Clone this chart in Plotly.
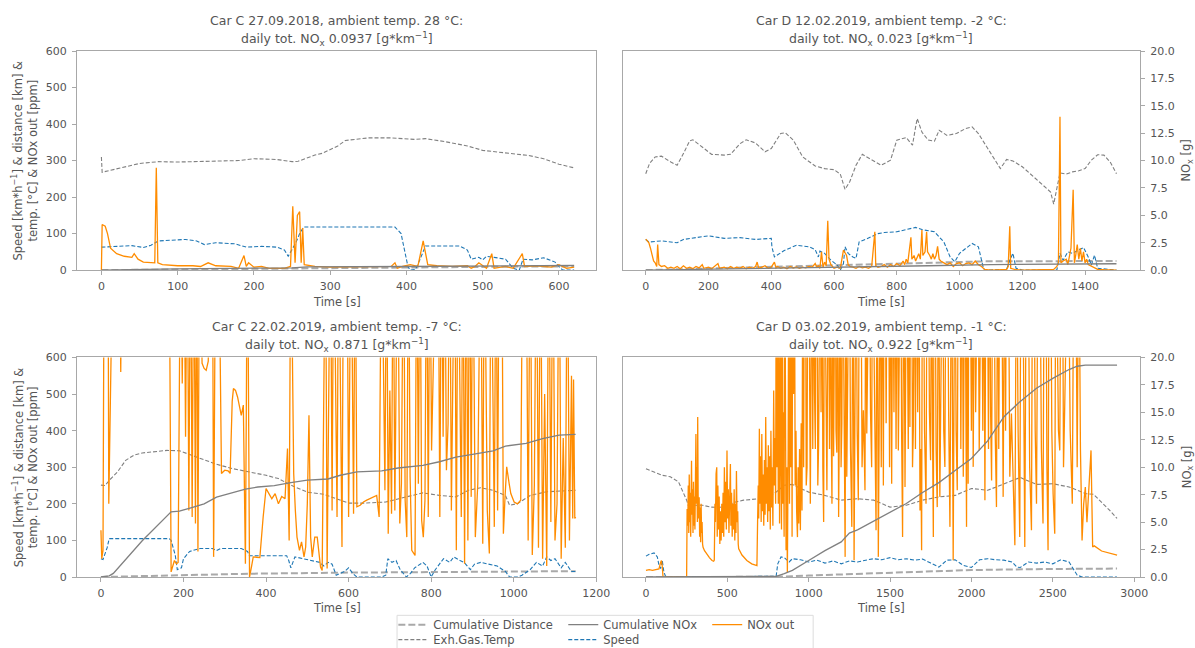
import plotly.graph_objects as go

# ---------------- DATA (time [s], value) ----------------
# Panel 1: Car C 27.09.2018
TL_TEMP = [(0,310),(1,268),(50,292),(75,297),(100,296),(150,298),(180,300),(200,305),(230,303),(250,297),(258,298),
           (280,315),(290,320),(310,340),(320,355),(350,362),(380,362),(410,358),(425,360),(450,352),(480,340),
           (500,328),(530,322),(560,314),(580,305),(600,290),(620,280)]
TL_SPEED = [(0,63),(20,64),(40,67),(55,62),(65,68),(75,80),(100,82),(110,84),(125,80),(135,70),(150,75),(175,72),
            (190,63),(210,65),(230,63),(240,55),(245,38),(255,75),(260,100),(265,118),(300,118),(385,118),(393,100),
            (398,50),(402,10),(405,0),(412,2),(418,30),(425,66),(470,66),(480,55),(485,30),(495,35),(500,28),(505,38),
            (515,35),(530,30),(540,5),(548,0),(553,30),(565,28),(580,34),(595,22),(600,10),(605,0),(620,0)]
TL_NOX = [(0,0),(1,125),(5,120),(8,100),(12,60),(20,45),(30,38),(40,35),(43,45),(48,30),(55,22),(70,20),(72,280),
          (74,20),(80,15),(100,12),(120,12),(130,10),(140,20),(150,12),(170,10),(180,5),(187,40),(190,10),(193,20),
          (200,8),(210,10),(220,5),(240,5),(248,10),(251,175),(254,20),(257,150),(260,160),(262,20),(264,115),(266,15),
          (280,10),(300,8),(380,10),(385,20),(388,5),(395,10),(405,15),(415,10),(422,80),(428,15),(440,12),(460,10),
          (480,12),(485,5),(490,10),(495,20),(505,5),(512,45),(515,5),(530,10),(540,5),(552,45),(555,10),(570,12),
          (590,8),(600,15),(610,5),(620,8)]
TL_DIST = [(0,0),(100,2.0),(200,4.0),(260,5.0),(300,6.0),(400,8.5),(450,9.0),(500,9.4),(550,9.7),(620,10.0)]
TL_CUMNOX = [(0,0),(100,0.12),(250,0.2),(270,0.3),(400,0.33),(620,0.42)]

# Panel 2: Car D 12.02.2019
TR_TEMP = [(0,264),(12,292),(30,310),(50,312),(80,296),(100,287),(120,319),(140,354),(150,357),(180,337),(210,317),
           (250,315),(270,317),(300,346),(320,357),(350,348),(380,324),(400,333),(430,374),(445,376),(470,356),
           (500,310),(540,285),(570,278),(600,275),(620,263),(635,221),(650,242),(670,287),(690,317),(720,301),
           (750,287),(780,301),(800,356),(830,363),(850,342),(860,392),(865,415),(880,378),(900,356),(920,353),
           (935,383),(960,369),(990,374),(1020,388),(1040,392),(1060,374),(1100,319),(1130,278),(1150,303),
           (1170,299),(1200,283),(1250,246),(1290,214),(1300,181),(1310,228),(1320,266),(1340,263),(1360,269),
           (1380,272),(1400,278),(1420,301),(1440,316),(1460,315),(1480,296),(1500,264)]
TR_SPEED = [(0,84),(10,77),(50,80),(100,75),(120,84),(200,94),(250,87),(300,89),(350,84),(400,87),(402,64),(410,36),
            (440,53),(480,68),(520,64),(540,56),(550,36),(555,52),(570,46),(590,27),(610,14),(620,0),(630,18),
            (635,64),(645,46),(660,36),(670,32),(680,77),(700,84),(740,100),(760,103),(800,105),(860,117),(880,111),
            (920,105),(950,77),(970,36),(985,23),(1000,46),(1040,73),(1060,64),(1075,9),(1080,0),(1150,2),(1160,27),
            (1170,46),(1180,5),(1200,0),(1310,0),(1320,46),(1330,27),(1345,50),(1360,46),(1380,55),(1395,62),
            (1410,36),(1420,14),(1430,41),(1440,5),(1500,0)]
TR_NOX = [(0,85),(5,80),(10,75),(15,60),(20,40),(25,25),(30,20),(35,10),(38,70),(42,15),(50,10),(60,12),(70,5),(80,8),
          (90,5),(100,10),(110,4),(120,12),(130,5),(140,8),(150,4),(160,10),(170,6),(180,15),(185,5),(200,8),(210,4),
          (220,10),(230,18),(235,5),(250,8),(260,4),(270,10),(280,5),(290,8),(300,5),(310,10),(320,4),(330,8),(340,5),
          (350,10),(355,22),(360,5),(370,8),(380,12),(390,5),(400,8),(410,22),(415,6),(420,10),(430,5),(440,8),(450,4),
          (460,10),(470,6),(480,9),(490,5),(500,8),(510,6),(520,10),(530,8),(540,18),(545,8),(550,12),(555,5),(560,50),
          (565,8),(570,22),(575,12),(580,135),(584,30),(590,15),(595,10),(600,5),(610,8),(620,5),(630,55),(635,45),
          (640,40),(645,15),(650,10),(660,8),(670,5),(680,10),(690,6),(700,8),(710,5),(720,10),(730,105),(733,12),
          (740,8),(750,10),(760,15),(770,8),(780,15),(790,10),(800,18),(810,12),(820,25),(825,15),(830,30),(835,20),
          (845,90),(848,30),(855,40),(860,25),(870,45),(875,30),(880,110),(883,40),(890,50),(895,105),(898,50),
          (905,40),(910,30),(915,45),(920,30),(925,40),(930,65),(935,30),(940,25),(950,20),(960,15),(970,20),(980,10),
          (990,18),(1000,20),(1010,12),(1020,18),(1030,20),(1040,15),(1050,25),(1060,15),(1070,10),(1075,5),(1080,2),
          (1100,0),(1140,1),(1150,2),(1155,10),(1160,120),(1163,5),(1170,3),(1180,1),(1200,0),(1300,2),(1310,10),
          (1315,20),(1320,420),(1323,20),(1330,25),(1340,30),(1345,15),(1350,40),(1355,60),(1362,220),(1366,20),
          (1370,40),(1375,70),(1380,30),(1385,60),(1390,25),(1395,50),(1400,20),(1405,30),(1410,15),(1420,10),
          (1430,5),(1440,2),(1460,1),(1500,0)]
TR_DIST = [(0,0),(200,4.5),(400,9.3),(600,12.5),(800,17),(1000,22.5),(1080,24),(1500,25)]
TR_CUMNOX = [(0,0),(400,0.15),(600,0.25),(900,0.4),(1100,0.5),(1300,0.52),(1400,0.58),(1500,0.58)]

# Panel 3: Car C 22.02.2019
BL_TEMP = [(0,251),(10,250),(20,264),(40,287),(60,319),(80,333),(100,339),(130,342),(160,346),(190,345),(210,337),
           (250,319),(280,308),(320,296),(360,287),(400,278),(430,269),(460,251),(500,232),(540,226),(570,214),
           (600,202),(640,202),(690,205),(740,219),(780,230),(820,223),(860,219),(890,237),(920,244),(950,237),
           (980,223),(990,196),(1010,201),(1040,223),(1080,233),(1150,237)]
BL_SPEED = [(0,50),(5,48),(15,80),(20,105),(100,105),(165,105),(170,100),(180,60),(185,20),(195,25),(200,50),(215,70),
            (240,78),(270,78),(280,72),(290,78),(340,78),(355,70),(360,58),(450,58),(455,45),(460,25),(470,55),
            (490,50),(510,45),(530,40),(540,30),(550,40),(560,35),(570,5),(590,15),(600,25),(610,10),(620,0),(680,0),
            (690,5),(695,50),(705,40),(715,45),(725,20),(740,0),(750,10),(760,25),(780,40),(790,30),(800,0),(810,20),
            (830,50),(845,40),(855,55),(870,45),(880,40),(895,20),(905,35),(920,40),(940,35),(960,30),(980,15),
            (990,0),(1010,0),(1020,5),(1040,20),(1055,40),(1070,30),(1080,55),(1090,45),(1100,50),(1115,25),
            (1125,40),(1140,15),(1150,15)]
BL_NOX = [(0,128),(2,50),(5,73),(8,1000),(12,1000),(15,650),(17,1000),(19,200),(22,1000),(30,1000),(45,1000),(48,560),
          (51,1000),(100,1000),(165,1000),(170,14),(175,30),(178,45),(183,36),(187,40),(193,1000),(197,529),(201,1000),
          (205,383),(209,1000),(213,182),(217,1000),(221,164),(225,1000),(229,146),(232,1000),(235,70),(239,1000),
          (245,584),(250,570),(255,565),(260,590),(265,1000),(270,1000),(273,55),(278,1000),(285,1000),(292,283),
          (300,292),(308,290),(313,283),(318,480),(321,515),(326,510),(331,492),(336,465),(340,442),(345,470),(350,36),
          (355,1000),(360,0),(365,30),(369,55),(377,54),(385,53),(393,164),(400,242),(407,228),(414,214),(422,228),
          (430,200),(438,220),(446,214),(452,351),(456,100),(460,1000),(467,283),(471,182),(475,109),(481,73),(486,96),
          (492,55),(496,82),(500,200),(504,442),(508,109),(512,55),(518,109),(524,109),(532,27),(536,18),(544,1000),
          (548,23),(556,1000),(560,182),(564,1000),(572,164),(576,1000),(584,82),(588,1000),(596,1000),(600,164),
          (606,1000),(612,173),(616,1000),(620,192),(628,196),(636,205),(644,210),(652,214),(660,219),(668,223),
          (674,164),(680,1000),(688,237),(692,1000),(696,118),(700,510),(704,173),(708,1000),(712,182),(719,1000),
          (724,146),(728,255),(733,1000),(737,210),(741,109),(745,1000),(749,274),(753,73),(761,59),(765,1000),
          (769,255),(773,1000),(777,155),(781,109),(785,210),(789,1000),(793,164),(797,1000),(801,346),(805,1000),
          (813,1000),(817,1000),(821,164),(825,1000),(829,383),(833,1000),(837,292),(841,419),(845,1000),(849,182),
          (857,1000),(861,73),(865,1000),(873,164),(877,1000),(881,36),(885,1000),(889,100),(893,1000),(897,219),
          (901,1000),(907,109),(913,255),(920,1000),(925,91),(929,1000),(936,182),(941,64),(945,1000),(953,137),
          (957,1000),(961,182),(965,1000),(971,1000),(975,118),(979,219),(983,301),(989,255),(993,228),(1001,205),
          (1009,200),(1017,210),(1022,1000),(1030,1000),(1035,100),(1040,1000),(1045,60),(1050,250),(1055,1000),
          (1060,80),(1065,1000),(1070,50),(1075,500),(1080,30),(1085,1000),(1090,150),(1095,1000),(1100,100),
          (1105,200),(1110,1000),(1115,50),(1120,380),(1125,80),(1130,1000),(1135,100),(1140,550),(1143,160),
          (1145,540),(1148,160),(1150,165)]
BL_DIST = [(0,0),(100,3),(170,5),(360,9),(600,12),(800,13.5),(1000,15),(1150,16)]
BL_CUMNOX = [(0,0),(20,0.1),(30,0.33),(100,3.3),(170,5.93),(190,6.0),(220,6.33),(250,6.67),(280,7.27),(320,7.67),
             (350,8.0),(380,8.2),(420,8.33),(460,8.6),(500,8.83),(550,8.93),(580,9.27),(620,9.57),(680,9.67),
             (720,9.93),(780,10.17),(820,10.5),(860,10.93),(900,11.17),(950,11.5),(980,11.93),(1030,12.17),
             (1070,12.6),(1110,12.93),(1150,13.0)]

# Panel 4: Car D 03.02.2019
BR_TEMP = [(0,296),(50,287),(100,278),(150,274),(200,260),(250,210),(270,182),(300,196),(350,196),(400,191),(450,190),
           (500,196),(550,205),(600,210),(700,214),(750,219),(800,232),(850,251),(900,253),(950,242),(1000,232),
           (1100,223),(1200,210),(1300,214),(1400,210),(1500,191),(1600,196),(1700,210),(1800,219),(1900,223),
           (2000,242),(2100,237),(2200,255),(2300,272),(2400,253),(2500,255),(2600,246),(2700,228),(2750,226),
           (2800,205),(2850,182),(2895,160)]
BR_SPEED = [(0,57),(20,62),(50,66),(70,55),(80,32),(90,23),(100,46),(110,14),(120,2),(150,0),(800,2),(810,36),(830,55),
            (850,53),(880,41),(900,50),(950,47),(1000,41),(1050,46),(1100,38),(1150,44),(1200,36),(1250,44),(1300,41),
            (1350,46),(1400,50),(1450,47),(1500,53),(1550,47),(1600,50),(1650,46),(1700,49),(1750,38),(1800,27),
            (1850,46),(1900,47),(1950,32),(2000,26),(2050,47),(2100,50),(2150,47),(2200,46),(2250,41),(2280,27),
            (2300,26),(2350,41),(2400,38),(2450,41),(2500,36),(2550,47),(2600,41),(2620,27),(2650,5),(2680,0),(2895,0)]
BR_NOX = [(0,18),(20,20),(40,18),(60,20),(80,22),(90,40),(95,45),(100,30),(105,0),(250,0),(253,186),(257,140),
          (260,250),(263,120),(266,280),(269,150),(272,230),(275,110),(278,300),(280,318),(283,170),(286,240),(289,120),
          (292,260),(295,140),(298,220),(301,130),(304,300),(307,391),(310,200),(313,300),(316,150),(318,437),(321,210),
          (324,160),(327,218),(330,110),(333,190),(336,95),(339,200),(342,120),(345,150),(348,90),(351,81),(360,72),
          (375,62),(390,53),(406,45),(416,43),(420,46),(424,200),(427,150),(431,282),(435,300),(438,110),(442,250),
          (446,130),(450,220),(454,90),(458,180),(462,100),(466,200),(470,120),(474,230),(478,110),(482,300),(486,150),
          (490,260),(494,130),(498,346),(502,160),(506,240),(510,120),(514,280),(519,309),(522,140),(526,230),(530,110),
          (534,200),(538,130),(542,240),(546,100),(550,200),(553,120),(556,290),(560,150),(564,180),(567,90),(570,77),
          (590,60),(620,45),(650,36),(682,31),(686,150),(690,250),(693,160),(697,405),(700,200),(704,330),(708,150),
          (712,391),(716,180),(720,280),(724,140),(728,320),(732,170),(736,437),(740,200),(744,300),(748,150),(752,360),
          (756,180),(760,330),(764,130),(768,400),(772,190),(776,300),(780,140),(785,510),(789,250),(793,380),(797,200),
          (801,1000),(805,300),(809,1000),(813,200),(817,1000),(821,146),(826,350),(829,1000),(833,130),(837,1000),
          (841,200),(845,450),(849,110),(853,1000),(857,250),(861,73),(865,300),(869,13),(874,350),(878,1000),(882,200),
          (886,1000),(890,300),(894,1000),(898,110),(902,1000),(907,500),(912,1000),(917,250),(922,400),(926,180),
          (931,109),(935,300),(939,146),(944,350),(949,128),(954,420),(959,182),(964,1000),(969,300),(974,1000),
          (980,1000),(985,250),(990,300),(995,1000),(1000,1000),(1005,400),(1010,200),(1015,1000),(1020,1000),
          (1025,350),(1031,1000),(1036,500),(1041,350),(1046,1000),(1051,1000),(1056,250),(1061,360),(1066,1000),
          (1071,1000),(1076,450),(1082,1000),(1087,300),(1092,150),(1097,1000),(1102,1000),(1107,400),(1112,237),
          (1117,1000),(1122,1000),(1128,350),(1133,1000),(1138,450),(1143,200),(1148,1000),(1153,330),(1158,500),
          (1163,1000),(1168,400),(1173,340),(1178,1000),(1184,164),(1189,450),(1194,1000),(1199,300),(1204,420),
          (1209,1000),(1214,1000),(1219,350),(1224,55),(1229,1000),(1234,274),(1242,1000),(1250,1000),(1257,350),
          (1265,137),(1272,1000),(1279,46),(1285,500),(1291,1000),(1298,400),(1305,210),(1312,1000),(1320,1000),
          (1328,300),(1336,456),(1346,237),(1351,1000),(1357,392),(1365,1000),(1373,1000),(1380,450),(1387,300),
          (1392,1000),(1398,1000),(1406,350),(1414,128),(1420,1000),(1428,55),(1433,400),(1438,1000),(1446,300),
          (1452,1000),(1459,250),(1464,1000),(1469,1000),(1476,420),(1483,1000),(1490,1000),(1497,300),(1503,1000),
          (1510,255),(1517,1000),(1524,450),(1530,1000),(1537,350),(1544,1000),(1551,346),(1558,1000),(1565,1000),
          (1571,400),(1577,109),(1584,1000),(1592,246),(1597,1000),(1602,1000),(1612,350),(1617,1000),(1622,410),
          (1627,1000),(1633,1000),(1638,300),(1643,400),(1650,1000),(1656,350),(1663,1000),(1670,450),(1677,1000),
          (1684,182),(1689,350),(1694,73),(1699,1000),(1704,1000),(1712,400),(1721,200),(1728,1000),(1735,1000),
          (1742,450),(1749,319),(1756,1000),(1761,400),(1766,109),(1771,1000),(1776,1000),(1783,350),(1790,191),
          (1798,1000),(1806,219),(1814,1000),(1823,1000),(1830,400),(1837,301),(1844,1000),(1852,1000),(1860,450),
          (1868,137),(1878,1000),(1888,46),(1893,500),(1899,1000),(1906,400),(1913,237),(1920,1000),(1929,1000),
          (1935,350),(1943,1000),(1950,274),(1960,1000),(1970,137),(1975,1000),(1980,255),(1985,1000),(1991,1000),
          (2000,400),(2006,1000),(2011,301),(2020,1000),(2026,450),(2031,1000),(2040,1000),(2048,346),(2055,1000),
          (2062,1000),(2070,400),(2076,1000),(2083,210),(2090,1000),(2097,1000),(2105,350),(2112,1000),(2118,450),
          (2124,264),(2131,1000),(2138,1000),(2146,400),(2154,191),(2162,1000),(2168,350),(2175,1000),(2185,1000),
          (2195,219),(2205,1000),(2210,400),(2216,1000),(2226,1000),(2236,274),(2246,447),(2256,264),(2267,87),
          (2277,1000),(2287,400),(2297,109),(2305,1000),(2314,1000),(2321,350),(2328,82),(2338,1000),(2348,1000),
          (2358,300),(2369,128),(2376,1000),(2383,1000),(2392,400),(2400,200),(2410,1000),(2420,1000),(2430,350),
          (2440,146),(2448,1000),(2457,1000),(2464,300),(2471,73),(2478,1000),(2486,1000),(2494,400),(2502,228),
          (2512,118),(2519,1000),(2526,1000),(2535,400),(2543,346),(2551,1000),(2559,1000),(2566,300),(2573,456),
          (2583,1000),(2594,1000),(2607,400),(2620,200),(2630,1000),(2640,1000),(2650,300),(2655,1000),(2660,1000),
          (2670,350),(2680,100),(2690,200),(2700,246),(2710,150),(2720,230),(2735,346),(2745,82),(2755,85),(2800,71),
          (2850,65),(2895,60)]
BR_DIST = [(0,0),(800,0.5),(1000,4),(1500,12),(2000,19),(2500,22),(2650,23),(2895,23)]
BR_CUMNOX = [(0,0),(800,0.05),(850,0.3),(900,0.6),(1000,1.5),(1100,2.4),(1200,3.2),(1250,4.0),(1300,4.3),(1400,5.1),
             (1500,5.9),(1600,6.7),(1700,7.7),(1800,8.6),(1900,9.7),(2000,10.8),(2100,12.4),(2200,14.6),(2300,16.0),
             (2400,17.2),(2500,18.1),(2600,18.9),(2650,19.2),(2700,19.3),(2895,19.3)]

TITLE_L1 = ["Car C 27.09.2018, ambient temp. 28 °C:", "Car D 12.02.2019, ambient temp. -2 °C:",
            "Car C 22.02.2019, ambient temp. -7 °C:", "Car D 03.02.2019, ambient temp. -1 °C:"]
TITLE_L2 = ["0.0937", "0.023", "0.871", "0.922"]
X_RANGES = [[-32, 649], [-73, 1575], [-58, 1200], [-142, 3036]]
X_TICKS = [list(range(0, 601, 100)), list(range(0, 1401, 200)), list(range(0, 1201, 200)), list(range(0, 3001, 500))]
LEFT_TICKS = [0, 100, 200, 300, 400, 500, 600]
RIGHT_TICKS = [0, 2.5, 5, 7.5, 10, 12.5, 15, 17.5, 20]

PANELS = [
    dict(dist=TL_DIST, temp=TL_TEMP, cum=TL_CUMNOX, speed=TL_SPEED, nox=TL_NOX),
    dict(dist=TR_DIST, temp=TR_TEMP, cum=TR_CUMNOX, speed=TR_SPEED, nox=TR_NOX),
    dict(dist=BL_DIST, temp=BL_TEMP, cum=BL_CUMNOX, speed=BL_SPEED, nox=BL_NOX),
    dict(dist=BR_DIST, temp=BR_TEMP, cum=BR_CUMNOX, speed=BR_SPEED, nox=BR_NOX),
]

# ---------------- STYLE / LAYOUT ----------------
FONT = "DejaVu Sans"
TXT = "#555555"
FRAME = "#a8a8a8"
W, H = 1195, 648
ML, MR, MT, MB = 76.5, 55, 51, 71.3
PW, PH = W - ML - MR, H - MT - MB

def px_x(px):
    return (px - ML) / PW

def px_y(py):
    return (H - MB - py) / PH

COL_DOM = [[0, px_x(596)], [px_x(622.6), 1]]
ROW_DOM = [[px_y(270), 1], [0, px_y(357.3)]]

SERIES = [
    # key, name, axis(left/right), color, width, dash, legend id
    ("dist", "Cumulative Distance", "L", "#a9a9a9", 2.0, "7px,3px", "legend"),
    ("temp", "Exh.Gas.Temp", "L", "#808080", 1.1, "4px,2px", "legend2"),
    ("speed", "Speed", "L", "#1f77b4", 1.1, "4px,2px", "legend4"),
    ("nox", "NOx out", "L", "#ff8c00", 1.3, "solid", "legend5"),
    ("cum", "Cumulative NOx", "R", "#808080", 1.3, "solid", "legend3"),
]

fig = go.Figure()
for i, p in enumerate(PANELS):
    sfx = "" if i == 0 else str(i + 1)
    for key, name, side, color, width, dash, leg in SERIES:
        pts = p[key]
        xs = [a for a, b in pts]
        ys = [b for a, b in pts]
        fig.add_trace(go.Scatter(
            x=xs, y=ys, mode="lines", name=name,
            xaxis="x" + sfx, yaxis=("y" + sfx) if side == "L" else "y" + str(i + 5),
            line=dict(color=color, width=width, dash=dash),
            showlegend=(i == 0), legend=leg, hoverinfo="skip"))

layout = dict(
    width=W, height=H, paper_bgcolor="white", plot_bgcolor="white",
    margin=dict(l=ML, r=MR, t=MT, b=MB, autoexpand=False),
    font=dict(family=FONT, color=TXT, size=11),
    annotations=[], shapes=[],
)

for i in range(4):
    row, col = divmod(i, 2)
    sfx = "" if i == 0 else str(i + 1)
    layout["xaxis" + sfx] = dict(
        domain=COL_DOM[col], anchor="y" + sfx, range=X_RANGES[i], tickvals=X_TICKS[i],
        ticks="outside", ticklen=4, tickcolor=FRAME, showline=True, linecolor=FRAME, linewidth=1,
        mirror=True, showgrid=False, zeroline=False, tickfont=dict(size=11, color=TXT),
        ticklabelstandoff=2)
    layout["yaxis" + sfx] = dict(
        domain=ROW_DOM[row], anchor="x" + sfx, range=[0, 600], tickvals=LEFT_TICKS,
        ticks="outside" if col == 0 else "", ticklen=4, tickcolor=FRAME,
        showticklabels=(col == 0), showline=True, linecolor=FRAME, linewidth=1, mirror=True,
        showgrid=False, zeroline=False, tickfont=dict(size=11, color=TXT), ticklabelstandoff=3)
    layout["yaxis" + str(i + 5)] = dict(
        overlaying="y" + sfx, anchor="x" + sfx, side="right", range=[0, 20], tickvals=RIGHT_TICKS,
        tickformat=".1f", ticks="outside" if col == 1 else "", ticklen=4, tickcolor=FRAME,
        showticklabels=(col == 1), showline=False, showgrid=False, zeroline=False,
        tickfont=dict(size=11, color=TXT), ticklabelstandoff=3)

    cx = (COL_DOM[col][0] + COL_DOM[col][1]) / 2
    y1, y2 = (20.7, 39) if row == 0 else (326.7, 345)
    layout["annotations"].append(dict(
        text=TITLE_L1[i], x=cx, y=px_y(y1), xref="paper", yref="paper", showarrow=False,
        xanchor="center", yanchor="middle", font=dict(size=12.5, color=TXT)))
    layout["annotations"].append(dict(
        text="daily tot. NO<sub>x</sub> " + TITLE_L2[i] + " [g*km<sup>−1</sup>]", x=cx, y=px_y(y2),
        xref="paper", yref="paper", showarrow=False, xanchor="center", yanchor="middle",
        font=dict(size=12.5, color=TXT)))
    layout["annotations"].append(dict(
        text="Time [s]", x=cx, y=px_y(301.7 if row == 0 else 608), xref="paper", yref="paper",
        showarrow=False, xanchor="center", yanchor="middle", font=dict(size=11.5, color=TXT)))
    cy = (ROW_DOM[row][0] + ROW_DOM[row][1]) / 2
    if col == 0:
        layout["annotations"].append(dict(
            text="Speed [km*h<sup>−1</sup>] & distance [km] &", x=px_x(17.5), y=cy, xref="paper",
            yref="paper", showarrow=False, textangle=-90, xanchor="center", yanchor="middle",
            font=dict(size=11.5, color=TXT)))
        layout["annotations"].append(dict(
            text="temp. [°C] & NOx out [ppm]", x=px_x(32.5), y=cy, xref="paper", yref="paper",
            showarrow=False, textangle=-90, xanchor="center", yanchor="middle",
            font=dict(size=11.5, color=TXT)))
    else:
        layout["annotations"].append(dict(
            text="NO<sub>x</sub> [g]", x=px_x(1187), y=cy, xref="paper", yref="paper",
            showarrow=False, textangle=-90, xanchor="center", yanchor="middle",
            font=dict(size=11.5, color=TXT)))

# legends: one per entry, laid out as matplotlib ncol=3
LEG_POS = {"legend": (393, 624.3), "legend2": (393, 639.3), "legend3": (563, 624.3),
           "legend4": (563, 639.3), "legend5": (707, 624.3)}
for lid, (lx, ly) in LEG_POS.items():
    layout[lid] = dict(x=px_x(lx), y=px_y(ly), xref="paper", yref="paper", xanchor="left",
                       yanchor="middle", orientation="v", bgcolor="rgba(0,0,0,0)", borderwidth=0,
                       font=dict(size=11.5, color=TXT), itemclick=False, itemdoubleclick=False)

layout["shapes"].append(dict(type="rect", xref="paper", yref="paper", x0=px_x(396.7), x1=px_x(813),
                             y0=px_y(652), y1=px_y(615), line=dict(color="#dcdcdc", width=1),
                             fillcolor="rgba(0,0,0,0)"))

fig.update_layout(**layout)
fig.write_html("out.html")
